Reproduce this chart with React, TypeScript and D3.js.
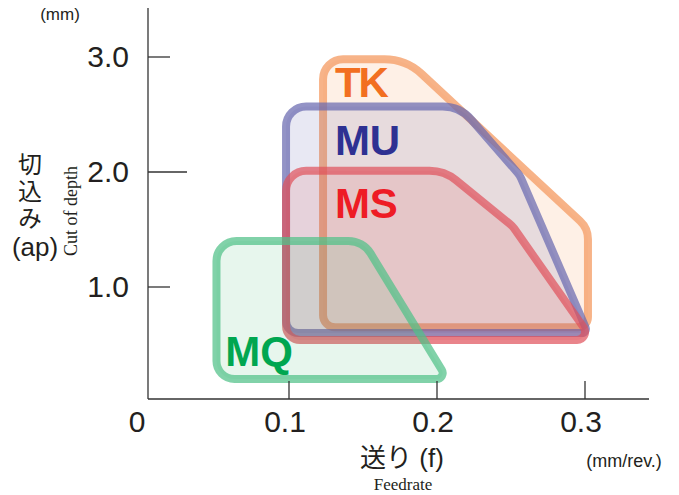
import React from "react";
import * as d3 from "d3";

// Region outlines: [feed f (mm/rev), depth ap (mm)] vertices
const regionNames = ["TK", "MU", "MS", "MQ"];
const regionTK: [number, number][] = [[0.123, 0.65], [0.123, 2.98], [0.179, 2.98], [0.302, 1.51], [0.302, 0.65]];
const regionMU: [number, number][] = [[0.098, 0.6], [0.098, 2.57], [0.2155, 2.57], [0.256, 1.97], [0.302, 0.6]];
const regionMS: [number, number][] = [[0.098, 0.54], [0.098, 2.01], [0.205, 2.01], [0.251, 1.53], [0.305, 0.54]];
const regionMQ: [number, number][] = [[0.051, 0.2], [0.051, 1.4], [0.15, 1.4], [0.207, 0.2]];
// Label anchors [f, ap]
const labelTK: [number, number] = [0.131, 2.65];
const labelMU: [number, number] = [0.131, 2.145];
const labelMS: [number, number] = [0.131, 1.6];
const labelMQ: [number, number] = [0.057, 0.31];

const xTicks = [0, 0.1, 0.2, 0.3];
const xTickLabels = ["0", "0.1", "0.2", "0.3"];
const yTicks = [1, 2, 3];
const yTickLabels = ["1.0", "2.0", "3.0"];

const styles: Record<string, { stroke: string; fill: string; fillOp: number; strokeOp: number; text: string; radii: number[] }> = {
  TK: { stroke: "#F5A06A", fill: "#F9A66C", fillOp: 0.17, strokeOp: 0.8, text: "#F26F21", radii: [12, 20, 55, 25, 10] },
  MU: { stroke: "#6A6AB0", fill: "#5A5AAA", fillOp: 0.14, strokeOp: 0.72, text: "#2E3192", radii: [12, 20, 38, 20, 4] },
  MS: { stroke: "#E0505A", fill: "#DC3C3C", fillOp: 0.13, strokeOp: 0.7, text: "#EE1C25", radii: [14, 20, 42, 25, 8] },
  MQ: { stroke: "#50C088", fill: "#3CB46E", fillOp: 0.12, strokeOp: 0.72, text: "#00A650", radii: [18, 20, 26, 6] },
};

const regions: Record<string, [number, number][]> = { TK: regionTK, MU: regionMU, MS: regionMS, MQ: regionMQ };
const labels: Record<string, [number, number]> = { TK: labelTK, MU: labelMU, MS: labelMS, MQ: labelMQ };

const W = 679;
const H = 495;
const x = d3.scaleLinear().domain([0, 0.3]).range([141, 585]);
const y = d3.scaleLinear().domain([0, 3]).range([402, 57]);

function roundedPath(pts: [number, number][], radii: number[]) {
  const p = d3.path();
  const n = pts.length;
  p.moveTo((pts[n - 1][0] + pts[0][0]) / 2, (pts[n - 1][1] + pts[0][1]) / 2);
  for (let i = 0; i < n; i++) {
    const c = pts[i];
    const nx = pts[(i + 1) % n];
    p.arcTo(c[0], c[1], nx[0], nx[1], radii[i]);
  }
  p.closePath();
  return p.toString();
}

const SANS = "'Liberation Sans', Arial, Helvetica, sans-serif";
const SERIF = "'Liberation Serif', 'Times New Roman', serif";
const CJK = "'Noto Sans CJK JP', sans-serif";

export default function App() {
  const axisX = 148;
  const axisY = 399;
  return (
    <svg width={W} height={H} style={{ position: "absolute", left: 0, top: 0, background: "#fff" }}>
      {regionNames.map((name) => {
        const s = styles[name];
        const pts = regions[name].map(([f, a]) => [x(f), y(a)] as [number, number]);
        return (
          <path
            key={name}
            d={roundedPath(pts, s.radii)}
            fill={s.fill}
            fillOpacity={s.fillOp}
            stroke={s.stroke}
            strokeOpacity={s.strokeOp}
            strokeWidth={8}
            strokeLinejoin="round"
          />
        );
      })}
      {regionNames.map((name) => (
        <text
          key={name + "-l"}
          x={x(labels[name][0])}
          y={y(labels[name][1])}
          fill={styles[name].text}
          fontFamily={SANS}
          fontWeight="bold"
          fontSize={42}
          letterSpacing={name === "TK" ? -2 : 0}
        >
          {name}
        </text>
      ))}

      <line x1={axisX} y1={8} x2={axisX} y2={axisY} stroke="#333" strokeWidth={1.3} />
      <line x1={axisX} y1={axisY} x2={649} y2={axisY} stroke="#333" strokeWidth={1.3} />
      {yTicks.map((v, i) => (
        <g key={"yt" + v}>
          <line x1={axisX} x2={axisX + (v === 2 ? 39 : 22)} y1={y(v)} y2={y(v)} stroke="#333" strokeWidth={1.3} />
          <text x={129} y={y(v) + 10} textAnchor="end" fontFamily={SANS} fontSize={30} fill="#231F20">
            {yTickLabels[i]}
          </text>
        </g>
      ))}
      {xTicks.map((v, i) => (
        <g key={"xt" + v}>
          {v > 0 && <line x1={x(v)} x2={x(v)} y1={axisY} y2={axisY - 18} stroke="#333" strokeWidth={1.3} />}
          <text x={x(v) - 4} y={432} textAnchor="middle" fontFamily={SANS} fontSize={30} fill="#231F20">
            {xTickLabels[i]}
          </text>
        </g>
      ))}

      <text x={60} y={20} textAnchor="middle" fontFamily={SANS} fontSize={17} fill="#231F20">(mm)</text>
      <text
        x={30}
        y={152}
        fontFamily={CJK}
        fontSize={24}
        fill="#231F20"
        style={{ writingMode: "vertical-rl" as any, textOrientation: "upright" as any }}
        letterSpacing={3}
      >
        切込み
      </text>
      <text x={35} y={256} textAnchor="middle" fontFamily={SANS} fontSize={26} fill="#231F20">(ap)</text>
      <text
        transform="translate(77,211) rotate(-90)"
        textAnchor="middle"
        fontFamily={SERIF}
        fontSize={18}
        fill="#231F20"
      >
        Cut of depth
      </text>
      <text x={402} y={467} textAnchor="middle" fill="#231F20" fontSize={26}>
        <tspan fontFamily={CJK}>送り</tspan>
        <tspan fontFamily={SANS}> (f)</tspan>
      </text>
      <text x={403} y={490} textAnchor="middle" fontFamily={SERIF} fontSize={17} fill="#231F20">Feedrate</text>
      <text x={624} y={467} textAnchor="middle" fontFamily={SANS} fontSize={18} fill="#231F20">(mm/rev.)</text>
    </svg>
  );
}
